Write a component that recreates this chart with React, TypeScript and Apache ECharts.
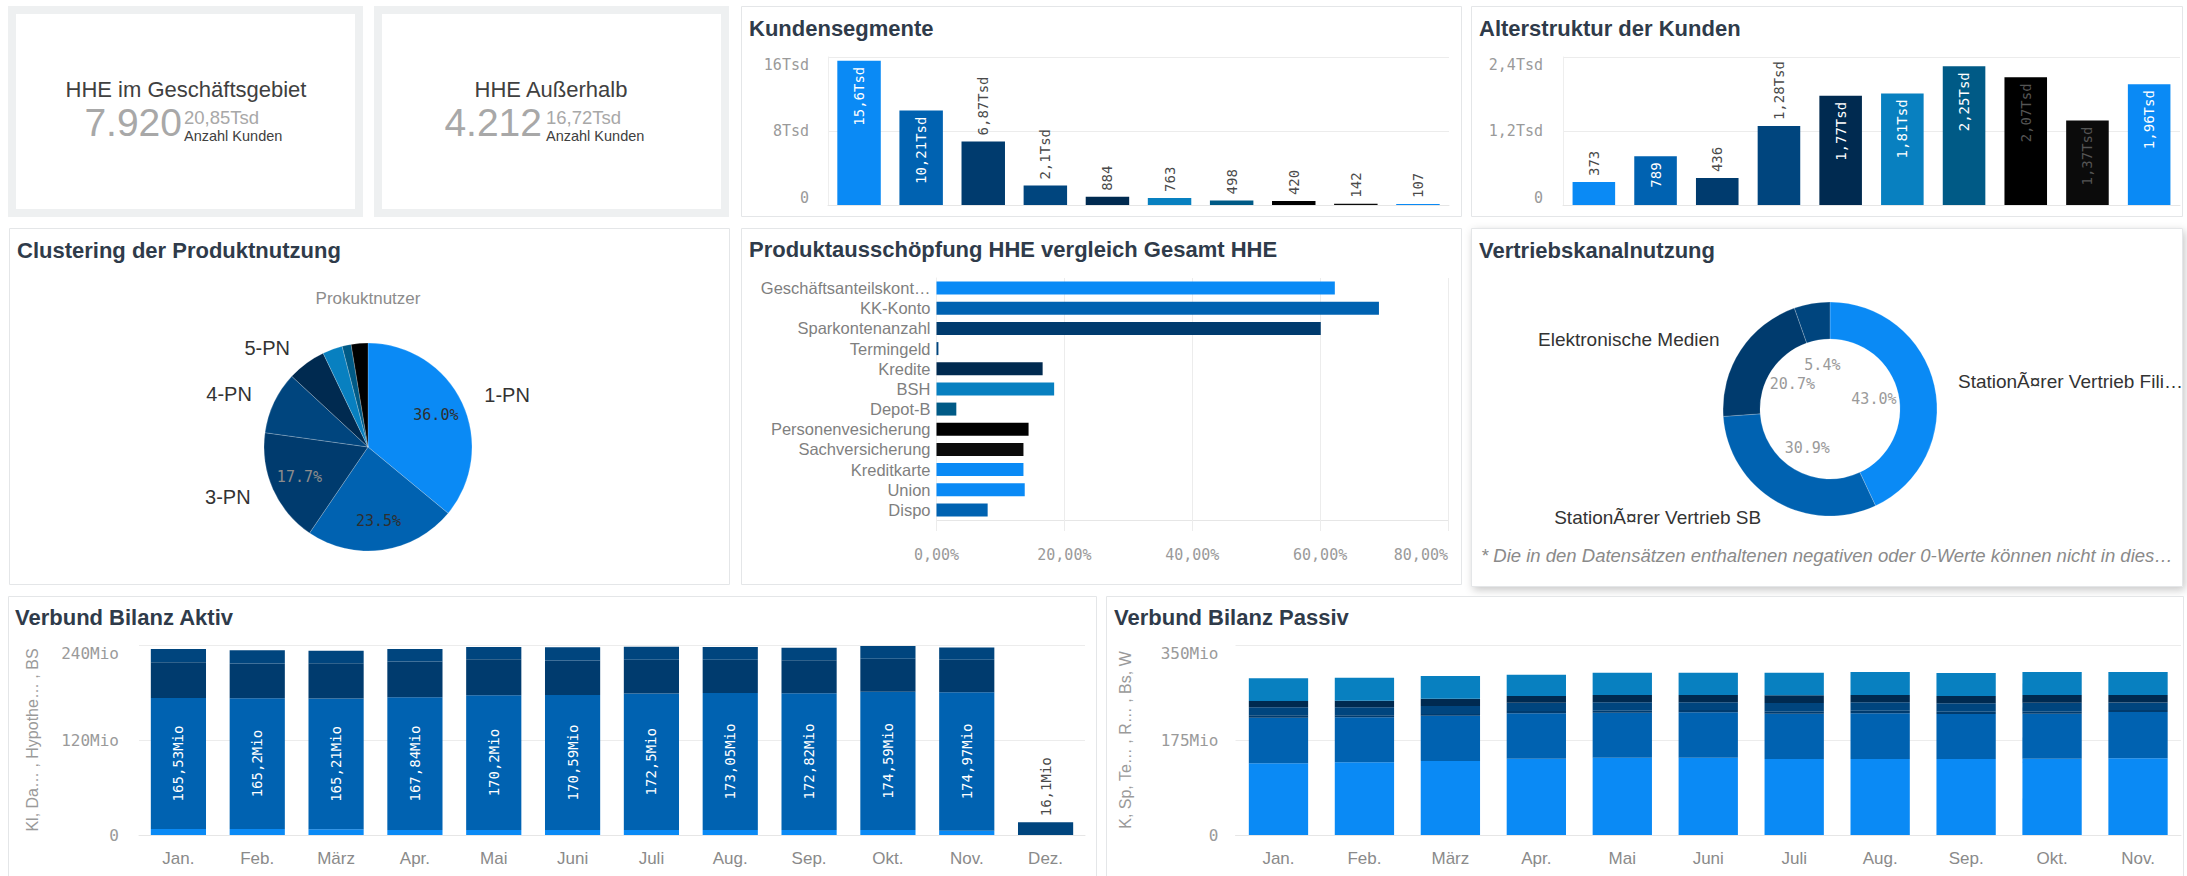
import React, { useEffect, useRef } from "react";
import * as echarts from "echarts";

// ---------- data ----------
const palette = ["#0A8AF5", "#0062B1", "#003B6E", "#00457E", "#002A50", "#0880C0", "#005A86", "#000000", "#0B0B0B", "#0A8AF5"];

const kpiTitles = ["HHE im Geschäftsgebiet", "HHE Außerhalb"];
const kpiValues = ["7.920", "4.212"];
const kpiSecondary = ["20,85Tsd", "16,72Tsd"];
const kpiSubLabel = "Anzahl Kunden";

const segmentCategories = ["Segment 1", "Segment 2", "Segment 3", "Segment 4", "Segment 5", "Segment 6", "Segment 7", "Segment 8", "Segment 9", "Segment 10"];
const segmentValues = [15600, 10210, 6870, 2100, 884, 763, 498, 420, 142, 107];
const segmentAxis = { min: 0, max: 16000, interval: 8000 };

const ageCategories = ["Gruppe 1", "Gruppe 2", "Gruppe 3", "Gruppe 4", "Gruppe 5", "Gruppe 6", "Gruppe 7", "Gruppe 8", "Gruppe 9", "Gruppe 10"];
const ageValues = [373, 789, 436, 1280, 1770, 1810, 2250, 2070, 1370, 1960];
const ageAxis = { min: 0, max: 2400, interval: 1200 };

const clusterSubtitle = "Prokuktnutzer";
const clusterNames = ["1-PN", "2-PN", "3-PN", "4-PN", "5-PN", "6-PN", "7-PN", "8-PN"];
const clusterValues = [36.0, 23.5, 17.7, 9.7, 6.0, 3.1, 1.4, 2.6];
const clusterHiddenNames = ["2-PN"];

const productNames = ["Geschäftsanteilskont…", "KK-Konto", "Sparkontenanzahl", "Termingeld", "Kredite", "BSH", "Depot-B", "Personenvesicherung", "Sachversicherung", "Kreditkarte", "Union", "Dispo"];
const productValues = [62.3, 69.2, 60.1, 0.3, 16.6, 18.4, 3.1, 14.4, 13.6, 13.6, 13.8, 8.0];
const productAxis = { min: 0, max: 80, interval: 20 };

const channelNames = ["StationÃ¤rer Vertrieb Fili…", "StationÃ¤rer Vertrieb SB", "Elektronische Medien", "Sonstige"];
const channelValues = [43.0, 30.9, 20.7, 5.4];
const channelFootnote = "* Die in den Datensätzen enthaltenen negativen oder 0-Werte können nicht in dies…";

const aktivMonths = ["Jan.", "Feb.", "März", "Apr.", "Mai", "Juni", "Juli", "Aug.", "Sep.", "Okt.", "Nov.", "Dez."];
const aktivNames = ["Kl", "Da…", "Hypothe…", "BS"];
const aktivKl = [7.6, 7.6, 7.2, 6.3, 6.3, 6.3, 6.3, 6.3, 6.3, 6.3, 5.5, 0];
const aktivDa = [165.53, 165.2, 165.21, 167.84, 170.2, 170.59, 172.5, 173.05, 172.82, 174.59, 174.97, 0];
const aktivHypothe = [45.1, 43.8, 44.6, 45.1, 45.5, 43.4, 42.5, 42.1, 41.7, 41.7, 40.8, 0];
const aktivBS = [16.8, 16.8, 15.6, 15.6, 15.6, 16.8, 16.4, 16.0, 15.6, 16.0, 15.6, 16.1];
const aktivAxisName = "Kl, Da… , Hypothe… , BS";
const aktivAxis = { min: 0, max: 240, interval: 120 };

const passivMonths = ["Jan.", "Feb.", "März", "Apr.", "Mai", "Juni", "Juli", "Aug.", "Sep.", "Okt.", "Nov."];
const passivNames = ["K", "Sp", "Te…", "R…", "Bs", "W"];
const passivK = [132.0, 133.9, 136.3, 140.6, 142.5, 142.5, 140.0, 140.0, 140.0, 140.6, 141.2];
const passivSp = [84.1, 82.9, 83.5, 83.5, 82.9, 83.5, 83.5, 84.1, 82.9, 82.9, 85.3];
const passivTe = [4.3, 3.7, 3.1, 4.3, 3.7, 4.3, 3.7, 4.9, 4.3, 3.7, 3.7];
const passivR = [14.7, 14.7, 14.7, 15.4, 15.4, 14.1, 16.0, 15.4, 15.4, 16.6, 14.1];
const passivBs = [11.7, 12.3, 13.5, 12.3, 13.5, 13.5, 14.1, 13.5, 13.5, 14.1, 13.5];
const passivW = [41.8, 42.4, 41.8, 39.3, 41.1, 41.1, 41.8, 42.4, 42.4, 42.4, 42.4];
const passivAxisName = "K, Sp, Te… , R… , Bs, W";
const passivAxis = { min: 0, max: 350, interval: 175 };

const titles = ["Kundensegmente", "Alterstruktur der Kunden", "Clustering der Produktnutzung", "Produktausschöpfung HHE vergleich Gesamt HHE", "Vertriebskanalnutzung", "Verbund Bilanz Aktiv", "Verbund Bilanz Passiv"];

// ---------- helpers ----------
const SANS = "'Liberation Sans', Arial, sans-serif";
const MONO = "'DejaVu Sans Mono', monospace";
const MONO_CHAR = 8.43; // px per char at 14px

function lum(hex: string) {
  const n = parseInt(hex.slice(1), 16);
  const c = [(n >> 16) & 255, (n >> 8) & 255, n & 255].map((v) => {
    const s = v / 255;
    return s <= 0.03928 ? s / 12.92 : Math.pow((s + 0.055) / 1.055, 2.4);
  });
  return 0.2126 * c[0] + 0.7152 * c[1] + 0.0722 * c[2];
}
const fmtTsd = (v: number) => (v >= 1000 ? String(Math.round(v / 10) / 100).replace(".", ",") + "Tsd" : String(v));
const fmtTsdAxis = (v: number) => (v === 0 ? "0" : String(v / 1000).replace(".", ",") + "Tsd");
const fmtMio = (v: number) => String(v).replace(".", ",") + "Mio";
const fmtMioAxis = (v: number) => (v === 0 ? "0" : v + "Mio");
const fmtPct = (v: number) => v.toFixed(2).replace(".", ",") + "%";

function columnItems(values: number[], max: number, plotH: number) {
  return values.map((v, i) => {
    const color = palette[i % palette.length];
    const text = fmtTsd(v);
    const px = (v / max) * plotH;
    const inside = px > text.length * MONO_CHAR + 22;
    return {
      value: v,
      itemStyle: { color },
      label: inside
        ? { position: "insideTop", align: "right", color: lum(color) < 0.01 ? "#555555" : "#ffffff" }
        : { position: "top", align: "left", color: "#4a4a4a" },
    };
  });
}

function buildOption(): any {
  const gridCommon = { containLabel: false, outerBoundsMode: "none", show: false };
  const grids = [
    { left: 828, top: 57, width: 621, height: 148 },
    { left: 1563, top: 57, width: 617, height: 148 },
    { left: 936.5, top: 278, width: 511.5, height: 242 },
    { left: 139, top: 645, width: 946, height: 190 },
    { left: 1235.5, top: 645, width: 945.5, height: 190 },
  ].map((g) => ({ ...gridCommon, ...g }));

  const tickLabel = (size: number, formatter: any, margin: number, extra: any = {}) => ({
    color: "#9a9a9a",
    fontFamily: MONO,
    fontSize: size,
    formatter,
    margin,
    ...extra,
  });
  const splitLine = { show: true, lineStyle: { color: "#ececec", width: 1 } };
  const lightAxisLine = { show: true, lineStyle: { color: "#e6e6e6", width: 1 } };

  const xAxis = [
    { gridIndex: 0, type: "category", data: segmentCategories, axisLabel: { show: false }, axisTick: { show: false }, axisLine: lightAxisLine },
    { gridIndex: 1, type: "category", data: ageCategories, axisLabel: { show: false }, axisTick: { show: false }, axisLine: lightAxisLine },
    {
      gridIndex: 2, type: "value", ...productAxis,
      axisLabel: tickLabel(15, fmtPct, 27, { alignMaxLabel: "right" }),
      splitLine, axisLine: lightAxisLine,
      axisTick: { show: true, length: 11, lineStyle: { color: "#ececec" } },
    },
    {
      gridIndex: 3, type: "category", data: aktivMonths,
      axisLabel: { color: "#8a8a8a", fontFamily: SANS, fontSize: 17, margin: 15 },
      axisTick: { show: false }, axisLine: lightAxisLine,
    },
    {
      gridIndex: 4, type: "category", data: passivMonths,
      axisLabel: { color: "#8a8a8a", fontFamily: SANS, fontSize: 17, margin: 15 },
      axisTick: { show: false }, axisLine: lightAxisLine,
    },
  ];

  const smallTick = { verticalAlignMaxLabel: "top", verticalAlignMinLabel: "bottom" };
  const yAxis = [
    { gridIndex: 0, type: "value", ...segmentAxis, axisLabel: tickLabel(15, fmtTsdAxis, 19, smallTick), splitLine, axisLine: { show: true, lineStyle: { color: "#eeeeee" } }, axisTick: { show: false } },
    { gridIndex: 1, type: "value", ...ageAxis, axisLabel: tickLabel(15, fmtTsdAxis, 20, smallTick), splitLine, axisLine: { show: true, lineStyle: { color: "#eeeeee" } }, axisTick: { show: false } },
    {
      gridIndex: 2, type: "category", data: productNames, inverse: true,
      axisLabel: { color: "#7f7f7f", fontFamily: SANS, fontSize: 16.5, margin: 6, interval: 0 },
      axisTick: { show: false }, axisLine: { show: true, lineStyle: { color: "#eeeeee" } },
    },
    {
      gridIndex: 3, type: "value", ...aktivAxis, axisLabel: tickLabel(16, fmtMioAxis, 20, { verticalAlignMaxLabel: "top" }), splitLine,
      axisLine: { show: false }, axisTick: { show: false },
      name: aktivAxisName, nameLocation: "middle", nameGap: 99,
      nameTextStyle: { color: "#9a9a9a", fontFamily: SANS, fontSize: 16 },
    },
    {
      gridIndex: 4, type: "value", ...passivAxis, axisLabel: tickLabel(16, fmtMioAxis, 17, { verticalAlignMaxLabel: "top" }), splitLine,
      axisLine: { show: false }, axisTick: { show: false },
      name: passivAxisName, nameLocation: "middle", nameGap: 102,
      nameTextStyle: { color: "#9a9a9a", fontFamily: SANS, fontSize: 16 },
    },
  ];

  const columnLabel = {
    show: true, rotate: 90, verticalAlign: "middle", distance: 6,
    fontFamily: MONO, fontSize: 14,
    formatter: (p: any) => fmtTsd(p.value),
  };

  const series: any[] = [
    { type: "bar", xAxisIndex: 0, yAxisIndex: 0, barWidth: "70%", data: columnItems(segmentValues, segmentAxis.max, 148), label: columnLabel },
    { type: "bar", xAxisIndex: 1, yAxisIndex: 1, barWidth: "69%", data: columnItems(ageValues, ageAxis.max, 148), label: columnLabel },
    {
      type: "bar", xAxisIndex: 2, yAxisIndex: 2, barWidth: 13,
      data: productValues.map((v, i) => ({ value: v, itemStyle: { color: palette[i % palette.length] } })),
    },
  ];

  const aktivSeries = [aktivKl, aktivDa, aktivHypothe, aktivBS];
  const aktivPx = 190 / aktivAxis.max;
  aktivSeries.forEach((vals, s) => {
    series.push({
      type: "bar", name: aktivNames[s], stack: "aktiv", xAxisIndex: 3, yAxisIndex: 3, barWidth: "70%",
      itemStyle: { color: palette[s] },
      label: { show: true, rotate: 90, verticalAlign: "middle", distance: 6, fontFamily: MONO, fontSize: 14, formatter: (p: any) => fmtMio(p.value) },
      data: vals.map((v, i) => {
        const text = fmtMio(v);
        const only = aktivSeries.every((o, k) => k === s || o[i] === 0);
        if (v > 0 && v * aktivPx > text.length * MONO_CHAR + 22)
          return { value: v, label: { position: "inside", align: "center", color: "#ffffff" } };
        if (v > 0 && only) return { value: v, label: { position: "top", align: "left", color: "#4a4a4a" } };
        return { value: v, label: { show: false } };
      }),
    });
  });

  const passivSeries = [passivK, passivSp, passivTe, passivR, passivBs, passivW];
  passivSeries.forEach((vals, s) => {
    series.push({
      type: "bar", name: passivNames[s], stack: "passiv", xAxisIndex: 4, yAxisIndex: 4, barWidth: "69%",
      itemStyle: { color: palette[s] }, data: vals,
    });
  });

  const clusterTotal = clusterValues.reduce((a, b) => a + b, 0);
  series.push({
    type: "pie", center: [368, 447], radius: [0, 104], startAngle: 90, clockwise: true,
    avoidLabelOverlap: false, silent: true,
    itemStyle: { borderColor: "rgba(255,255,255,0.35)", borderWidth: 0.6 },
    label: { position: "outside", formatter: "{b}", fontFamily: SANS, fontSize: 20, color: "#333333" },
    labelLine: { show: false, length: 19, length2: 0 },
    data: clusterNames.map((n, i) => ({
      name: n, value: clusterValues[i],
      itemStyle: { color: palette[i % palette.length] },
      label: { show: (clusterValues[i] / clusterTotal) * 100 >= 5 && !clusterHiddenNames.includes(n) },
    })),
  });
  series.push({
    type: "pie", center: [368, 447], radius: [40, 104], startAngle: 90, clockwise: true,
    avoidLabelOverlap: false, silent: true,
    itemStyle: { color: "rgba(0,0,0,0)" },
    label: { position: "inside", rotate: 0, align: "center", fontFamily: MONO, fontSize: 15, formatter: (p: any) => p.percent.toFixed(1) + "%" },
    labelLine: { show: false },
    data: clusterNames.map((n, i) => ({
      name: n, value: clusterValues[i],
      label: {
        show: (clusterValues[i] / clusterTotal) * 100 >= 15,
        color: lum(palette[i % palette.length]) < 0.08 ? "#8c8c8c" : "#2f2f2f",
      },
    })),
  });

  const channelTotal = channelValues.reduce((a, b) => a + b, 0);
  series.push({
    type: "pie", center: [1830, 409], radius: [70, 107], startAngle: 90, clockwise: true,
    avoidLabelOverlap: false, silent: true,
    itemStyle: { borderColor: "rgba(255,255,255,0.35)", borderWidth: 0.6 },
    label: { position: "outside", formatter: "{b}", fontFamily: SANS, fontSize: 19, color: "#333333" },
    labelLine: { show: false, length: 19, length2: 0 },
    data: channelNames.map((n, i) => ({
      name: n, value: channelValues[i],
      itemStyle: { color: palette[i % palette.length] },
      label: { show: (channelValues[i] / channelTotal) * 100 >= 10 },
    })),
  });
  series.push({
    type: "pie", center: [1830, 409], radius: [20, 64], startAngle: 90, clockwise: true,
    avoidLabelOverlap: false, silent: true,
    itemStyle: { color: "rgba(0,0,0,0)" },
    label: { position: "inside", rotate: 0, align: "center", fontFamily: MONO, fontSize: 15, color: "#9a9a9a", formatter: (p: any) => p.percent.toFixed(1) + "%" },
    labelLine: { show: false },
    data: channelNames.map((n, i) => ({ name: n, value: channelValues[i] })),
  });

  const titlePos = [
    [749, 17], [1479, 17], [17, 239], [749, 238], [1479, 239], [15, 606], [1114, 606],
  ];
  const title = titles.map((t, i) => ({
    text: t, left: titlePos[i][0], top: titlePos[i][1], padding: 0,
    textStyle: { fontFamily: SANS, fontWeight: "bold", fontSize: 22, color: "#2F3B4A" },
  }));

  const panel = (x: number, y: number, w: number, h: number, extra: any = {}) => ({
    type: "rect", z: -10, silent: true,
    shape: { x, y, width: w, height: h },
    style: { fill: "#ffffff", stroke: "#e4e6e8", lineWidth: 1, ...extra },
  });

  const kpiCenters = [186, 551];
  const kpiNumberRight = [182, 542];
  const kpiSecondLeft = [184, 546];
  const graphicEls: any[] = [
    panel(12, 10, 347, 203, { stroke: "#eef0f1", lineWidth: 8 }),
    panel(378, 10, 347, 203, { stroke: "#eef0f1", lineWidth: 8 }),
    panel(741.5, 6.5, 720, 210),
    panel(1471.5, 6.5, 711, 210),
    panel(9.5, 228.5, 720, 356),
    panel(741.5, 228.5, 720, 356),
    panel(1471.5, 228.5, 711, 358, { shadowBlur: 8, shadowOffsetX: 2, shadowOffsetY: 3, shadowColor: "rgba(0,0,0,0.22)" }),
    panel(8.5, 596.5, 1088, 290),
    panel(1106.5, 596.5, 1077, 290),
  ];
  kpiTitles.forEach((t, i) => {
    graphicEls.push({
      type: "text", x: kpiCenters[i], y: 89, z: 50,
      style: { text: t, fontFamily: SANS, fontSize: 22, fill: "#404040", align: "center", verticalAlign: "middle" },
    });
    graphicEls.push({
      type: "text", x: kpiNumberRight[i], y: 122.5, z: 50,
      style: { text: kpiValues[i], fontFamily: SANS, fontSize: 39, fill: "#a8a8a8", align: "right", verticalAlign: "middle" },
    });
    graphicEls.push({
      type: "text", x: kpiSecondLeft[i], y: 117, z: 50,
      style: { text: kpiSecondary[i], fontFamily: SANS, fontSize: 18.5, fill: "#a8a8a8", align: "left", verticalAlign: "middle" },
    });
    graphicEls.push({
      type: "text", x: kpiSecondLeft[i], y: 136, z: 50,
      style: { text: kpiSubLabel, fontFamily: SANS, fontSize: 14.5, fill: "#404040", align: "left", verticalAlign: "middle" },
    });
  });
  graphicEls.push({
    type: "text", x: 368, y: 298, z: 50,
    style: { text: clusterSubtitle, fontFamily: SANS, fontSize: 17, fill: "#8c8c8c", align: "center", verticalAlign: "middle" },
  });
  graphicEls.push({
    type: "text", x: 1481, y: 555, z: 50,
    style: { text: channelFootnote, fontFamily: SANS, fontStyle: "italic", fontSize: 18.5, fill: "#8a8a8a", align: "left", verticalAlign: "middle" },
  });

  return {
    animation: false,
    backgroundColor: "#ffffff",
    textStyle: { fontFamily: SANS },
    title,
    grid: grids,
    xAxis,
    yAxis,
    series,
    graphic: { elements: graphicEls },
  };
}

export default function App() {
  const ref = useRef<HTMLDivElement>(null);
  useEffect(() => {
    if (!ref.current) return;
    const chart = echarts.init(ref.current, null, { renderer: "svg" });
    chart.setOption(buildOption());
    return () => chart.dispose();
  }, []);
  return <div ref={ref} style={{ position: "absolute", left: 0, top: 0, width: 2187, height: 876 }} />;
}
